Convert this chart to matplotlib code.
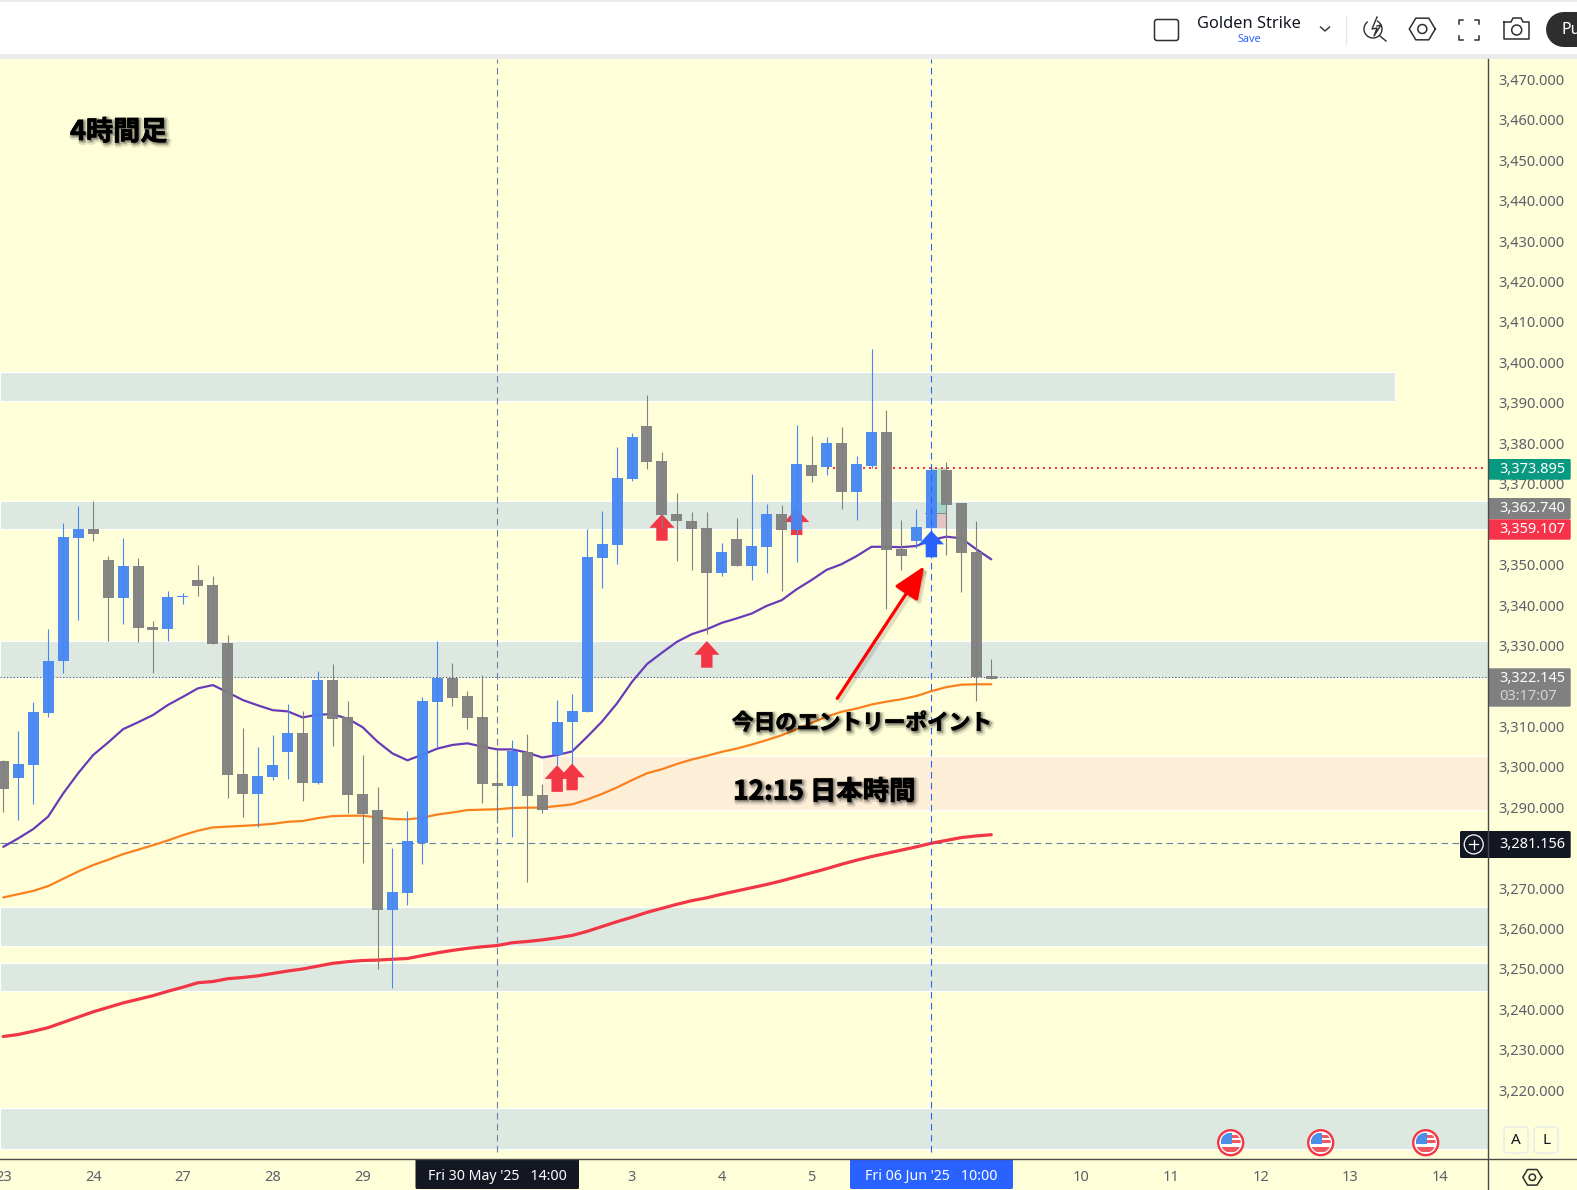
import numpy as np
import matplotlib
matplotlib.use("Agg")
import matplotlib.pyplot as plt
import matplotlib.patheffects as pe
from matplotlib.patches import Rectangle, Circle, FancyBboxPatch, Polygon
from matplotlib.ticker import FuncFormatter

plt.rcParams['font.family'] = ['Noto Sans', 'DejaVu Sans']
JP = ['Noto Sans CJK JP', 'DejaVu Sans']

# candles, XAUUSD 4h, one value per bar
highs = [3301.7, 3308.9, 3316.0, 3334.1, 3360.3, 3364.5, 3365.7, 3352.1, 3356.6, 3351.6, 3336.1, 3343.5, 3343.0, 3349.9, 3347.2, 3332.6, 3309.6,
         3304.9, 3307.9, 3315.5, 3313.8, 3323.7, 3325.4, 3316.3, 3302.9, 3295.0, 3279.9, 3289.1, 3317.3, 3331.1, 3325.7, 3318.7, 3322.7, 3303.3,
         3306.6, 3308.1, 3295.7, 3316.5, 3318.0, 3358.8, 3363.2, 3379.1, 3382.5, 3391.9, 3377.8, 3367.7, 3363.0, 3363.0, 3355.3, 3361.5, 3372.4,
         3365.0, 3364.7, 3384.5, 3381.8, 3381.5, 3384.0, 3376.8, 3403.3, 3388.2, 3361.0, 3363.7, 3374.4, 3375.4, 3365.2, 3360.8, 3326.6]
body_top = [3301.4, 3300.7, 3313.5, 3326.2, 3356.8, 3358.8, 3358.8, 3351.1, 3349.7, 3349.7, 3334.6, 3342.0, 3342.2, 3346.2, 3345.0, 3330.6, 3298.2,
            3297.7, 3300.4, 3308.4, 3308.4, 3321.5, 3321.5, 3312.3, 3293.3, 3289.3, 3269.0, 3281.6, 3316.3, 3322.0, 3322.0, 3317.5, 3312.3, 3296.0,
            3303.9, 3303.6, 3293.0, 3311.1, 3313.8, 3351.9, 3355.1, 3371.4, 3381.5, 3384.3, 3375.6, 3362.5, 3360.8, 3359.0, 3353.1, 3356.3, 3354.6,
            3362.5, 3362.5, 3374.9, 3374.6, 3380.1, 3380.1, 3374.9, 3382.8, 3382.8, 3353.8, 3359.3, 3373.4, 3373.4, 3365.2, 3353.1, 3322.4]
body_bottom = [3294.5, 3297.2, 3300.4, 3313.3, 3326.2, 3356.6, 3357.6, 3341.7, 3341.7, 3334.3, 3333.8, 3334.1, 3342.0, 3344.7, 3330.4, 3298.0, 3293.3,
               3293.3, 3297.5, 3303.7, 3296.0, 3296.0, 3311.8, 3293.0, 3288.3, 3264.6, 3264.6, 3268.8, 3281.2, 3316.0, 3317.0, 3312.1, 3295.7, 3295.2,
               3295.3, 3292.8, 3289.3, 3302.9, 3311.1, 3313.5, 3351.6, 3354.8, 3371.2, 3375.4, 3362.3, 3360.8, 3358.8, 3347.9, 3347.9, 3349.6, 3349.6,
               3354.3, 3358.5, 3358.5, 3371.9, 3374.1, 3367.9, 3367.9, 3374.5, 3353.6, 3352.1, 3355.8, 3359.0, 3364.7, 3352.9, 3322.2, 3321.7]
lows = [3288.8, 3286.8, 3290.8, 3312.3, 3323.2, 3336.3, 3355.8, 3331.1, 3335.3, 3330.9, 3323.2, 3331.1, 3340.3, 3342.2, 3330.4, 3292.3, 3287.6,
        3285.1, 3296.7, 3297.0, 3291.5, 3295.7, 3305.1, 3288.6, 3276.2, 3250.0, 3245.3, 3265.8, 3276.0, 3304.6, 3315.0, 3309.3, 3291.0, 3286.0,
        3282.7, 3271.5, 3288.6, 3300.4, 3300.8, 3313.5, 3344.2, 3350.1, 3370.7, 3373.6, 3359.0, 3350.9, 3348.7, 3332.8, 3347.2, 3349.6, 3346.2,
        3347.9, 3343.5, 3350.6, 3370.4, 3372.1, 3363.7, 3361.0, 3373.9, 3339.0, 3348.7, 3354.1, 3358.5, 3352.4, 3343.2, 3316.3, 3321.7]
up_bars = [1, 2, 3, 4, 5, 8, 11, 12, 17, 18, 19, 21, 26, 27, 28, 29, 34, 37, 38, 39, 40, 41, 42, 48, 50, 51, 53, 55, 57, 58, 61, 62]

# moving averages
ma_fast = [3280.2, 3282.3, 3284.6, 3287.7, 3293.4, 3298.4, 3302.9, 3306.0, 3309.3, 3311.0, 3312.8, 3315.3, 3317.3, 3319.4, 3320.2, 3318.4, 3316.5,
           3315.2, 3314.0, 3313.7, 3312.2, 3312.9, 3313.0, 3311.9, 3309.8, 3306.2, 3303.3, 3301.6, 3303.0, 3304.5, 3305.4, 3305.8, 3305.0, 3304.3,
           3304.3, 3303.5, 3302.3, 3302.9, 3303.8, 3307.4, 3311.2, 3315.7, 3321.0, 3325.4, 3328.2, 3330.9, 3332.8, 3334.0, 3335.6, 3336.7, 3337.9,
           3339.8, 3341.2, 3343.9, 3346.2, 3348.7, 3350.1, 3352.1, 3354.4, 3354.4, 3354.3, 3354.6, 3356.1, 3356.9, 3356.5, 3353.8, 3351.3]
ma_mid = [3267.7, 3268.5, 3269.3, 3270.5, 3272.3, 3274.1, 3275.7, 3277.0, 3278.4, 3279.5, 3280.6, 3281.8, 3283.1, 3284.2, 3285.0, 3285.2, 3285.4,
          3285.6, 3285.9, 3286.4, 3286.6, 3287.3, 3287.8, 3287.9, 3287.9, 3287.5, 3287.1, 3287.0, 3287.4, 3288.2, 3288.7, 3289.3, 3289.4, 3289.5,
          3289.8, 3289.9, 3289.9, 3290.3, 3290.7, 3291.9, 3293.3, 3294.9, 3296.7, 3298.4, 3299.4, 3300.7, 3301.8, 3302.7, 3303.7, 3304.5, 3305.5,
          3306.6, 3307.8, 3309.3, 3310.9, 3312.4, 3313.6, 3314.4, 3315.4, 3316.1, 3316.7, 3317.5, 3318.7, 3319.7, 3320.3, 3320.4, 3320.4]
ma_slow = [3233.3, 3233.8, 3234.6, 3235.5, 3236.8, 3238.1, 3239.4, 3240.5, 3241.6, 3242.5, 3243.4, 3244.5, 3245.5, 3246.6, 3246.9, 3247.6, 3247.9,
           3248.3, 3248.9, 3249.5, 3250.0, 3250.7, 3251.4, 3251.8, 3252.1, 3252.2, 3252.4, 3252.6, 3253.3, 3254.0, 3254.6, 3255.1, 3255.5, 3255.8,
           3256.5, 3256.8, 3257.2, 3257.7, 3258.3, 3259.3, 3260.5, 3261.7, 3262.8, 3264.0, 3265.0, 3266.0, 3266.9, 3267.6, 3268.5, 3269.3, 3270.1,
           3270.9, 3271.8, 3272.8, 3273.8, 3274.8, 3275.9, 3276.9, 3277.8, 3278.6, 3279.4, 3280.2, 3281.1, 3281.8, 3282.5, 3282.9, 3283.2]

# zones drawn on the chart: top price, bottom price
zone_top = [3365.6, 3331.2, 3265.4, 3251.6, 3215.7]
zone_bottom = [3358.7, 3321.9, 3255.7, 3244.6, 3205.5]
upper_zone = (3397.5, 3390.4)
session_zone = (3302.7, 3289.3)

red_arrow_bars = [37, 38, 44, 47, 53]
red_arrow_tips = [3300.4, 3300.8, 3362.5, 3331.1, 3363.9]
blue_arrow_bar = 62
blue_arrow_tip = 3358.4

price_ticks = list(range(3220, 3480, 10))
date_ticks = [0, 6, 12, 18, 24, 42, 48, 54, 72, 78, 84, 90, 96]
date_labels = ['23', '24', '27', '28', '29', '3', '4', '5', '10', '11', '12', '13', '14']

last_price = 3322.145
cross_price = 3281.156
entry_price = 3373.895
target_price = 3362.740
stop_price = 3359.107
cross_bars = [33, 62]

PANE = '#fefed8'
TXT = '#5d606b'
BLUE = '#4787f3'
GRAY = '#808080'
ZONE = '#dde9e0'
px = 0.72  # pixels to points at dpi 100

fig = plt.figure(figsize=(15.77, 11.90), dpi=100, facecolor=PANE)
W, H = 1577.0, 1190.0
ax = fig.add_axes([0, (H - 1159.3) / H, 1487.5 / W, (1159.3 - 59) / H], facecolor=PANE)
ax.set_xlim(-0.22, 99.15)
ax.set_ylim(3202.94, 3475.02)
for s in ax.spines.values():
    s.set_visible(False)

ax.yaxis.tick_right()
ax.set_yticks(price_ticks)
ax.yaxis.set_major_formatter(FuncFormatter(lambda v, p: f'{v:,.3f}'))
ax.set_xticks(date_ticks)
ax.set_xticklabels(date_labels)
ax.tick_params(axis='y', length=0, pad=8, labelsize=10.5, labelcolor=TXT)
ax.tick_params(axis='x', length=0, pad=8, labelsize=10.5, labelcolor=TXT)

# zones
for top, bot in zip(zone_top, zone_bottom):
    ax.axhspan(bot, top, facecolor=ZONE, edgecolor='white', lw=0.8, zorder=1)
ax.add_patch(Rectangle((-0.22, upper_zone[1]), 93.2, upper_zone[0] - upper_zone[1],
                       facecolor=ZONE, edgecolor='white', lw=0.8, zorder=1))
ax.add_patch(Rectangle((36, session_zone[1]), 64, session_zone[0] - session_zone[1],
                       facecolor='#fdeed8', edgecolor='white', lw=0.8, zorder=1))

# long position tool behind the entry candle
ax.add_patch(Rectangle((62, target_price), 1, entry_price - target_price, facecolor='#089981', alpha=0.25, lw=0, zorder=1.5))
ax.add_patch(Rectangle((62, stop_price), 1, target_price - stop_price, facecolor='#f7334b', alpha=0.2, lw=0, zorder=1.5))
ax.plot([61.6, 63], [target_price, target_price], color='#8a8a8a', lw=1 * px, zorder=1.6)

# price and crosshair lines
ax.axhline(last_price, color='#555555', lw=1.1 * px, ls=(0, (1, 2)), zorder=1.8)
ax.plot([-0.22, 97.3], [cross_price, cross_price], color='#6a7fa0', lw=1.1 * px, ls=(0, (6, 4)), zorder=1.8)
ax.plot([55, 99.15], [entry_price, entry_price], color='#f7334b', lw=2 * px, ls=(0, (1, 2)), zorder=1.8)
ax.plot([cross_bars[0]] * 2, [3204.8, 3475], color='#6a7fa0', lw=1.1 * px, ls=(0, (6, 4)), zorder=3.5)
ax.plot([cross_bars[1]] * 2, [3204.8, 3475], color='#2962ff', lw=1.1 * px, ls=(0, (6, 4)), zorder=3.5)

bars = np.arange(len(highs))
ax.plot(bars, ma_slow, color='#f23645', lw=3.2 * px, zorder=2, solid_capstyle='round')
ax.plot(bars, ma_mid, color='#f9801c', lw=2.2 * px, zorder=2, solid_capstyle='round')
ax.plot(bars, ma_fast, color='#673ab7', lw=2.2 * px, zorder=2, solid_capstyle='round')


def up_arrow(bar, tip, color):
    hw, sw, head, tall = 0.84, 0.38, 3.4, 6.6
    pts = [(bar, tip), (bar + hw, tip - head), (bar + sw, tip - head), (bar + sw, tip - tall),
           (bar - sw, tip - tall), (bar - sw, tip - head), (bar - hw, tip - head)]
    ax.add_patch(Polygon(pts, closed=True, facecolor=color, lw=0, zorder=2.5))


for b, t in zip(red_arrow_bars, red_arrow_tips):
    up_arrow(b, t, '#f23645')
up_arrow(blue_arrow_bar, blue_arrow_tip, '#2962ff')

# candles
colors = [BLUE if i in up_bars else GRAY for i in bars]
ax.vlines(bars, lows, highs, colors=colors, lw=1.1 * px, zorder=3)
ax.bar(bars, np.array(body_top) - np.array(body_bottom), bottom=body_bottom, width=0.735,
       color=colors, alpha=0.96, lw=0, zorder=3.1)

# hand drawn annotations
arrow = ax.annotate('', xy=(61.52, 3349.6), xytext=(55.71, 3316.9), zorder=4,
                    arrowprops=dict(arrowstyle='-|>,head_length=0.9,head_width=0.38', color='#ff0000',
                                    lw=3.2 * px, shrinkA=0, shrinkB=0, mutation_scale=22))
arrow.arrow_patch.set_path_effects([pe.Stroke(linewidth=3, foreground='black', alpha=0.12, offset=(2, -2)), pe.Normal()])


def shadow(extra=0.5):
    return [pe.Stroke(linewidth=4.5, foreground='black', alpha=0.10, offset=(1.5, -1.5)),
            pe.Stroke(linewidth=2.5, foreground='black', alpha=0.20, offset=(1, -1)),
            pe.Stroke(linewidth=extra, foreground='black'), pe.Normal()]


# interface drawn in pixels on top of the chart
ui = fig.add_axes([0, 0, 1, 1], zorder=10)
ui.set_xlim(0, W)
ui.set_ylim(H, 0)
ui.axis('off')

ui.text(70, 132, '4時間足', family=JP, weight='bold', fontsize=19.5, color='black', va='center', path_effects=shadow())
ui.text(732, 723, '今日のエントリーポイント', family=JP, weight='bold', fontsize=15.6, color='black', va='center', path_effects=shadow())
ui.text(733, 792, '12:15 日本時間', family=JP, weight='bold', fontsize=19, color='black', va='center', path_effects=shadow())

# top bar
ui.add_patch(Rectangle((0, 0), W, 54, facecolor='white', lw=0))
ui.add_patch(Rectangle((0, 0), W, 2, facecolor='#ebebeb', lw=0))
ui.add_patch(Rectangle((0, 54), W, 5, facecolor='#ebebeb', lw=0))
ICON = '#2e2e2e'
ui.add_patch(FancyBboxPatch((1156, 21), 21, 18, boxstyle='round,pad=1.5,rounding_size=2.5', facecolor='none', edgecolor=ICON, lw=1.1))
ui.text(1249, 24, 'Golden Strike', fontsize=11.8, color='#131722', ha='center', va='center')
ui.text(1249.5, 40, 'Save', fontsize=7.8, color='#2962ff', ha='center', va='center')
ui.plot([1320.5, 1325, 1329.5], [27, 31, 27], color=ICON, lw=1)
ui.plot([1345.5, 1345.5], [16, 44], color='#e6e6e6', lw=0.8)
# lightning search icon
t = np.radians(np.arange(-60, 235, 5))
ui.plot(1373 + 9 * np.cos(t), 29 - 9 * np.sin(t) * -1, color=ICON, lw=1)
ui.plot([1377, 1372, 1377, 1374, 1381, 1377], [17, 29, 28, 36, 25, 26], color=ICON, lw=1)
ui.plot([1380, 1386], [36, 41], color=ICON, lw=1)
# settings hexagon
ang = np.radians(np.arange(0, 361, 60))
ui.plot(1422.3 + 13 * np.cos(ang), 29 + 12.5 * np.sin(ang), color=ICON, lw=1.1)
ui.add_patch(Circle((1422.3, 29), 4.5, facecolor='none', edgecolor=ICON, lw=1.1))
# full screen corners
for sx, sy in [(-1, -1), (1, -1), (-1, 1), (1, 1)]:
    cx, cy = 1469.3 + sx * 10, 29.5 + sy * 10
    ui.plot([cx - sx * 4, cx, cx], [cy, cy, cy - sy * 4], color=ICON, lw=1.1)
# camera
ui.plot([1504, 1511, 1513, 1521, 1523, 1529, 1529, 1504, 1504], [22, 22, 18, 18, 22, 22, 39, 39, 22], color=ICON, lw=1.1)
ui.add_patch(Circle((1516.7, 30), 5, facecolor='none', edgecolor=ICON, lw=1.1))
# publish button, cut by the window edge
ui.add_patch(FancyBboxPatch((1555, 18), 60, 23, boxstyle='round,pad=0,rounding_size=0', facecolor='#2e2e2e', lw=0))
ui.add_patch(Circle((1563.5, 29.5), 17.4, facecolor='#2e2e2e', lw=0))
ui.add_patch(Rectangle((1563, 12), 20, 35, facecolor='#2e2e2e', lw=0))
ui.text(1561.5, 29.5, 'Pu', fontsize=11.5, color='white', weight='bold', va='center')

# axis lines
ui.plot([1487.5, 1487.5], [59, H], color='#4a4a4a', lw=1)
ui.plot([0, W], [1159.3, 1159.3], color='#4a4a4a', lw=1)


def price_box(x0, y0, x1, y1, color, label, tx=1499):
    ui.add_patch(FancyBboxPatch((x0, y0), x1 - x0, y1 - y0, boxstyle='round,pad=0,rounding_size=1.5', facecolor=color, lw=0))
    ui.text(tx, (y0 + y1) / 2, label, fontsize=10.5, color='white', va='center', weight=500)


price_box(1488, 459, 1570.7, 479.7, '#089981', f'{entry_price:,.3f}')
price_box(1488, 498, 1570.7, 519.3, GRAY, f'{target_price:,.3f}')
price_box(1488, 519.3, 1570.7, 539.7, '#f7334b', f'{stop_price:,.3f}')
ui.add_patch(FancyBboxPatch((1488, 668.3), 82.7, 38.4, boxstyle='round,pad=0,rounding_size=1.5', facecolor=GRAY, lw=0))
ui.text(1499, 678, f'{last_price:,.3f}', fontsize=10.5, color='white', va='center', weight=500)
ui.text(1499, 696, '03:17:07', fontsize=10.5, color='#d5d5d5', va='center')
price_box(1460, 831, 1570.7, 858, '#131722', f'{cross_price:,.3f}')
ui.add_patch(Circle((1473.7, 844.4), 9.5, facecolor='none', edgecolor='white', lw=0.9))
ui.plot([1469, 1478.4], [844.4, 844.4], color='white', lw=0.9)
ui.plot([1473.7, 1473.7], [839.7, 849.1], color='white', lw=0.9)

# crosshair date labels
for x0, x1, color, label in [(415.5, 579, '#131722', "Fri 30 May '25   14:00"), (850, 1013, '#2962ff', "Fri 06 Jun '25   10:00")]:
    ui.add_patch(FancyBboxPatch((x0, 1159), x1 - x0, 30, boxstyle='round,pad=0,rounding_size=1.5', facecolor=color, lw=0))
    ui.text((x0 + x1) / 2, 1176.5, label, fontsize=10.2, color='white', ha='center', va='center')

# economic calendar flags
for fx in [1230.7, 1320.7, 1425.7]:
    ring = Circle((fx, 1142.7), 12.5, facecolor='white', edgecolor='#f23645', lw=1.7, zorder=5)
    ui.add_patch(ring)
    clip = Circle((fx, 1142.7), 10, transform=ui.transData)
    for yy in [1136.5, 1141.5, 1148.5]:
        r = Rectangle((fx - 10, yy - 1.5), 20, 3.2 if yy < 1146 else 4.5, facecolor='#f0575f', lw=0, zorder=6)
        ui.add_patch(r)
        r.set_clip_path(clip)
    c = Rectangle((fx - 10, 1133), 11, 11, facecolor='#4a90e8', lw=0, zorder=7)
    ui.add_patch(c)
    c.set_clip_path(clip)

# A / L buttons and settings
for x0, lab in [(1504, 'A'), (1534, 'L')]:
    ui.add_patch(FancyBboxPatch((x0, 1127), 24, 26, boxstyle='round,pad=0,rounding_size=4', facecolor=PANE, edgecolor='#e6e8ee', lw=0.9))
    ui.text(x0 + 12, 1140.5, lab, fontsize=11, color='#131722', ha='center', va='center')
ui.plot(1532.3 + 9.5 * np.cos(ang), 1177.3 + 9 * np.sin(ang), color=ICON, lw=1.1)
ui.add_patch(Circle((1532.3, 1177.3), 3.2, facecolor='none', edgecolor=ICON, lw=1.1))

fig.savefig('out.png', dpi=100, facecolor=PANE)
